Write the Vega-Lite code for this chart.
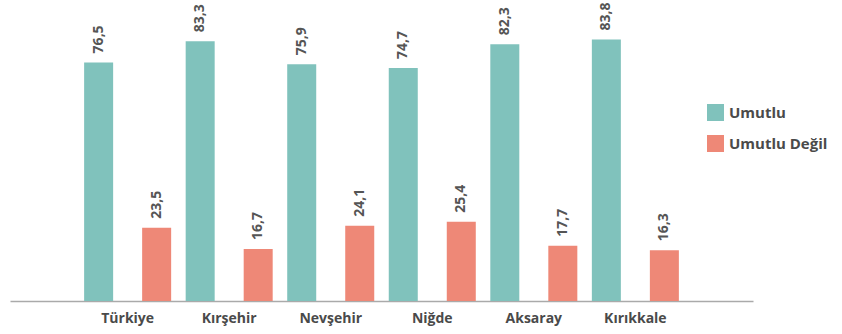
{
  "$schema": "https://vega.github.io/schema/vega-lite/v6.json",
  "autosize": "none",
  "width": 743,
  "height": 301,
  "padding": {"left": 10, "top": 0, "right": 89, "bottom": 33},
  "background": "white",
  "config": {
    "locale": {"number": {"decimal": ",", "thousands": ".", "grouping": [3], "currency": ["", ""]}},
    "view": {"stroke": null},
    "font": "Open Sans"
  },
  "data": {
    "values": [
      {"il": "Türkiye", "seri": "Umutlu", "deger": 76.5},
      {"il": "Türkiye", "seri": "Umutlu Değil", "deger": 23.5},
      {"il": "Kırşehir", "seri": "Umutlu", "deger": 83.3},
      {"il": "Kırşehir", "seri": "Umutlu Değil", "deger": 16.7},
      {"il": "Nevşehir", "seri": "Umutlu", "deger": 75.9},
      {"il": "Nevşehir", "seri": "Umutlu Değil", "deger": 24.1},
      {"il": "Niğde", "seri": "Umutlu", "deger": 74.7},
      {"il": "Niğde", "seri": "Umutlu Değil", "deger": 25.4},
      {"il": "Aksaray", "seri": "Umutlu", "deger": 82.3},
      {"il": "Aksaray", "seri": "Umutlu Değil", "deger": 17.7},
      {"il": "Kırıkkale", "seri": "Umutlu", "deger": 83.8},
      {"il": "Kırıkkale", "seri": "Umutlu Değil", "deger": 16.3}
    ]
  },
  "encoding": {
    "x": {
      "field": "il", "type": "nominal", "sort": null,
      "scale": {"paddingInner": 0.143, "paddingOuter": 0.73},
      "axis": {
        "title": null, "labelAngle": 0, "ticks": false,
        "domainColor": "#aaaaaa", "domainWidth": 1.5,
        "labelFont": "Open Sans", "labelFontWeight": "bold", "labelFontSize": 14,
        "labelColor": "#4a4a4a", "labelPadding": 10
      }
    },
    "xOffset": {"field": "seri", "type": "nominal", "scale": {"paddingInner": 0.5, "paddingOuter": 0}},
    "y": {"field": "deger", "type": "quantitative", "scale": {"domain": [0, 96.5], "nice": false}, "axis": null}
  },
  "layer": [
    {
      "mark": {"type": "bar"},
      "encoding": {
        "color": {
          "field": "seri", "type": "nominal",
          "scale": {"domain": ["Umutlu", "Umutlu Değil"], "range": ["#80C2BC", "#EE8877"]},
          "legend": {
            "title": null, "orient": "none", "legendX": 697, "legendY": 104,
            "symbolType": "square", "symbolSize": 289, "symbolStrokeWidth": 0,
            "labelFont": "Open Sans", "labelFontWeight": "bold", "labelFontSize": 15,
            "labelColor": "#4a4a4a", "rowPadding": 14, "labelOffset": 5
          }
        }
      }
    },
    {
      "mark": {"type": "text", "angle": -90, "align": "left", "baseline": "middle", "dx": 9,
               "font": "Open Sans", "fontWeight": "bold", "fontSize": 14, "color": "#555555"},
      "encoding": {"text": {"field": "deger", "type": "quantitative", "format": ".1f"}}
    }
  ]
}
